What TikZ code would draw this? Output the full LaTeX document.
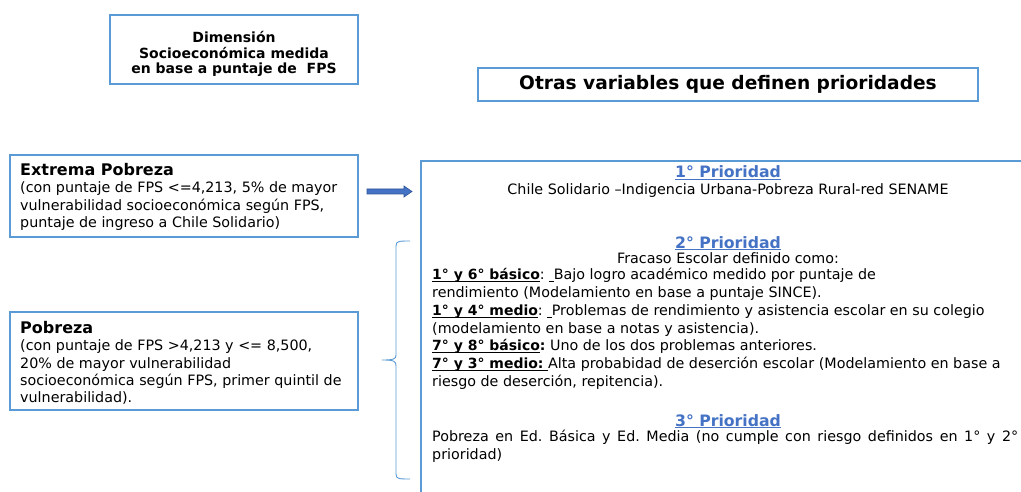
\documentclass[tikz,border=0pt]{standalone}
\usepackage{fontspec}
\setmainfont{DejaVu Sans}
\usetikzlibrary{arrows.meta,calc}
\definecolor{boxcol}{RGB}{91,155,213}
\definecolor{headblue}{RGB}{68,114,196}
\definecolor{arrowdark}{RGB}{47,85,151}
\newcommand{\ul}[1]{\setbox0\hbox{#1}\rlap{\rule[-2.3pt]{\wd0}{1pt}}\box0}
\newcommand{\kb}[1]{{\fontsize{14}{17}\selectfont\bfseries #1}}
\frenchspacing
\begin{document}
\begin{tikzpicture}[x=1pt,y=-1pt,
  boxline/.style={draw=boxcol,line width=1.1pt},
  bx/.style={boxline,rectangle,inner sep=0pt},
  txt/.style={inner sep=0pt,font=\fontsize{14.3}{17.2}\selectfont},
  head/.style={inner sep=0pt,text=headblue,font=\fontsize{15.7}{17}\selectfont\bfseries},
]
\useasboundingbox (0,0) rectangle (1021,492);
\fill[white] (0,0) rectangle (1021,492);
\clip (0,0) rectangle (1021,492);

% top boxes
\node[bx,minimum width=248pt,minimum height=69pt] (dim) at (234,49.5) {};
\node[inner sep=0pt,align=center,font=\fontsize{14}{15.5}\selectfont\bfseries]
  (dimt) at (234,54) {Dimensión\\Socioeconómica medida\\en base a puntaje de\ \ FPS};
\node[bx,minimum width=500pt,minimum height=33pt,
  font=\fontsize{18.6}{20}\selectfont\bfseries] (otras) at (728,84.5)
  {Otras variables que definen prioridades};

% left boxes
\node[bx,minimum width=348pt,minimum height=82pt] (ext) at (184,196) {};
\node[txt,anchor=west,align=left] (extt) at (20,197)
  {{\fontsize{16}{17}\selectfont\bfseries Extrema Pobreza}\\
   (con puntaje de FPS <=4,213, 5\% de mayor\\
   vulnerabilidad socioeconómica según FPS,\\
   puntaje de ingreso a Chile Solidario)};
\node[bx,minimum width=348pt,minimum height=98pt] (pob) at (184,361) {};
\node[txt,anchor=west,align=left] (pobt) at (20,363)
  {{\fontsize{16}{17}\selectfont\bfseries Pobreza}\\
   (con puntaje de FPS >4,213 y <= 8,500,\\
   20\% de mayor vulnerabilidad\\
   socioeconómica según FPS, primer quintil de\\
   vulnerabilidad).};

% big right box (cut off)
\coordinate (bigtr) at (1030,161);
\coordinate (bigbl) at (421,500);
\draw[boxline] (bigtr) -| (bigbl);

% arrow
\coordinate (a0) at (367,191.5);
\coordinate (a1) at (412,191.5);
\draw[arrowdark,fill=headblue,line width=0.6pt]
  ($(a0)+(0,-2.5)$) -- ($(a1)+(-8,-2.5)$) -- ($(a1)+(-8,-5.5)$) -- (a1)
  -- ($(a1)+(-8,5.5)$) -- ($(a1)+(-8,2.5)$) -- ($(a0)+(0,2.5)$) -- cycle;

% brace
\coordinate (bt) at (410,241);
\coordinate (bm) at (382,360);
\coordinate (bb) at (410,479);
\draw[draw=boxcol,line width=0.9pt]
  (bt) .. controls (399,241) and (396,241) .. (396,246)
  -- (396,355) .. controls (396,359) and (394,360) .. (bm)
  -- (bm) .. controls (394,360) and (396,361) .. (396,366)
  -- (396,474) .. controls (396,479) and (399,479) .. (bb);

% 1st priority
\node[head,anchor=base] (p1) at (728,178) {\ul{1° Prioridad}};
\node[txt,anchor=base] (p1t) at (728,195)
  {Chile Solidario –Indigencia Urbana-Pobreza Rural-red SENAME};

% 2nd priority
\node[head,anchor=base] (p2) at (728,248) {\ul{2° Prioridad}};
\node[txt,anchor=base] (p2t) at (728,263) {Fracaso Escolar definido como:};
\node[txt,anchor=north west,align=left,font=\fontsize{14.3}{17.8}\selectfont] (p2b) at (432,268)
  {\ul{\kb{1° y 6° básico}}: \ul{\ }Bajo logro académico medido por puntaje de\\
   rendimiento (Modelamiento en base a puntaje SINCE).\\
   \ul{\kb{1° y 4° medio}}: \ul{\ }Problemas de rendimiento y asistencia escolar en su colegio\\
   (modelamiento en base a notas y asistencia).\\
   \ul{\kb{7° y 8° básico}}\kb{:} Uno de los dos problemas anteriores.\\
   \ul{\kb{7° y 3° medio:}\ }Alta probabidad de deserción escolar (Modelamiento en base a\\
   riesgo de deserción, repitencia).};

% 3rd priority
\node[head,anchor=base] (p3) at (728,426) {\ul{3° Prioridad}};
\node[txt,anchor=north west,align=left,font=\fontsize{14.3}{17.5}\selectfont] (p3t) at (432,430)
  {\makebox[586pt][s]{Pobreza en Ed. Básica y Ed. Media (no cumple con riesgo definidos en 1° y 2°}\\
   prioridad)};
\end{tikzpicture}
\end{document}
